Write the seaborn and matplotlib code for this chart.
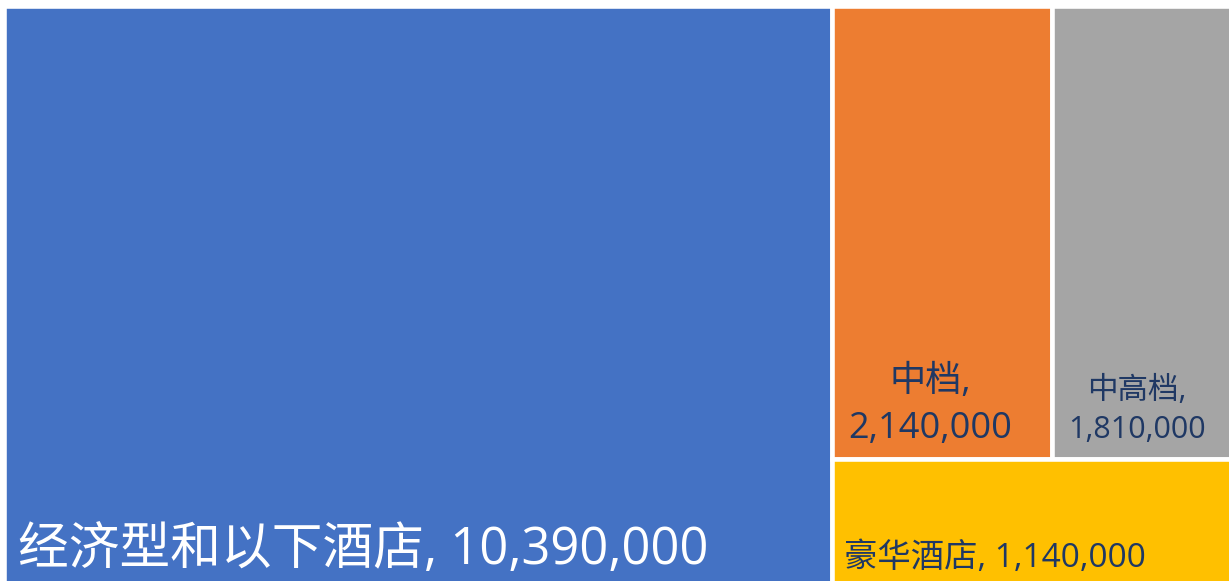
import matplotlib
matplotlib.use("Agg")
import matplotlib.pyplot as plt
import seaborn as sns
from matplotlib.patches import Rectangle

# ---- data ----
categories = ["经济型和以下酒店", "中档", "中高档", "豪华酒店"]
values = [10390000, 2140000, 1810000, 1140000]
colors = ["#4472C4", "#ED7D31", "#A5A5A5", "#FFC000"]
text_colors = ["white", "#1F3864", "#1F3864", "#1F3864"]

sns.set_theme(style="white")
plt.rcParams["font.family"] = ["Open Sans", "Noto Sans CJK SC", "DejaVu Sans"]

W, H = 1229, 581
fig = plt.figure(figsize=(W / 100, H / 100), dpi=100)
fig.patch.set_facecolor("white")
# axes slightly larger than the canvas (chart is cropped right/bottom in reference)
ax = fig.add_axes([4 / W, (H - 590) / H, 1234 / W, 584 / H])
ax.set_xlim(0, 1)
ax.set_ylim(0, 1)
ax.axis("off")

# ---- treemap layout (Excel-style: first item a column, rest: top row of two, bottom one) ----
total = sum(values)
w0 = values[0] / total
rest = values[1] + values[2] + values[3]
h_top = (values[1] + values[2]) / rest
w1 = (1 - w0) * values[1] / (values[1] + values[2])
rects = [
    (0, 0, w0, 1),
    (w0, 1 - h_top, w1, h_top),
    (w0 + w1, 1 - h_top, 1 - w0 - w1, h_top),
    (w0, 0, 1 - w0, 1 - h_top),
]

for (x, y, w, h), c in zip(rects, colors):
    ax.add_patch(Rectangle((x, y), w, h, facecolor=c, edgecolor="white", linewidth=3.3))

# ---- labels ----
def fmt(v):
    return f"{v:,}"

# blue: single line, bottom-left
x, y, w, h = rects[0]
ax.annotate(f"{categories[0]}, {fmt(values[0])}", xy=(x, y), xytext=(14, 26),
            textcoords="offset pixels", ha="left", va="baseline",
            fontsize=36.5, color=text_colors[0])

# orange: two lines centered, bottom
x, y, w, h = rects[1]
ax.annotate(f"{categories[1]},\n{fmt(values[1])}", xy=(x + w / 2, y), xytext=(-12, 21),
            textcoords="offset pixels", ha="center", va="baseline",
            multialignment="center", linespacing=1.4,
            fontsize=26, color=text_colors[1])

# gray: two lines centered, bottom
x, y, w, h = rects[2]
ax.annotate(f"{categories[2]},\n{fmt(values[2])}", xy=(x + w / 2, y), xytext=(-8, 21),
            textcoords="offset pixels", ha="center", va="baseline",
            multialignment="center", linespacing=1.38,
            fontsize=22, color=text_colors[2])

# yellow: single line, bottom-left
x, y, w, h = rects[3]
ax.annotate(f"{categories[3]}, {fmt(values[3])}", xy=(x, y), xytext=(12, 23),
            textcoords="offset pixels", ha="left", va="baseline",
            fontsize=24, color=text_colors[3])

fig.savefig("out.png", dpi=100, facecolor="white")
